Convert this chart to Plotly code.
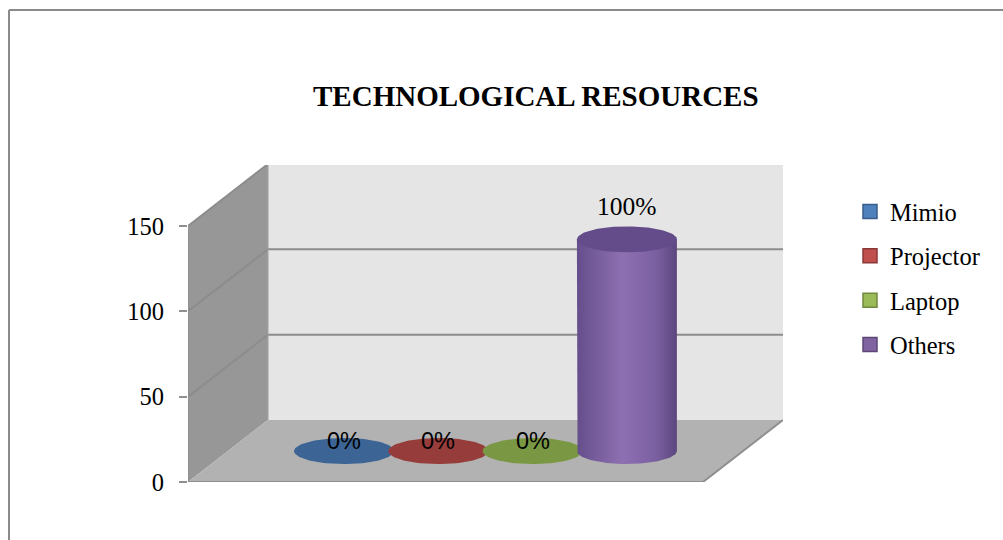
import numpy as np
import plotly.graph_objects as go

# ---- data ----
categories = ["Mimio", "Projector", "Laptop", "Others"]
counts = [0, 0, 0, 124]
y_ticks = [0, 50, 100, 150]
title_text = "TECHNOLOGICAL RESOURCES"

# ---- colours ----
face_colors = ["#3c6596", "#963c3a", "#7a9844", "#7a5fa0"]
legend_colors = ["#4f81bd", "#c0504d", "#9bbb59", "#8064a2"]
legend_edges = ["#385d8a", "#8c3836", "#71893f", "#5c4776"]
body_gradient = [[0, "#654e8c"], [0.45, "#8d70b1"], [0.8, "#7a5fa0"], [1, "#5b467e"]]
top_color = "#634c89"

# ---- frame geometry (axis units) ----
W, H = 1003, 540
PX_LEFT, PX_RIGHT, PX_BOTTOM, PX_TOP = 188, 783, 482, 165
PX_PER_VAL = (482 - 226) / 150.0
PX_PER_CAT = 94.3
PX_CAT0 = 304
Y_MAX = (PX_BOTTOM - PX_TOP) / PX_PER_VAL
X_MIN = (PX_LEFT - PX_CAT0) / PX_PER_CAT
X_MAX = (PX_RIGHT - PX_CAT0) / PX_PER_CAT
DX = 80 / PX_PER_CAT          # depth offset, horizontal
DY = 62 / PX_PER_VAL          # depth offset, vertical
X0, X1 = X_MIN, (703 - PX_CAT0) / PX_PER_CAT   # front edge of floor
RX = 50 / PX_PER_CAT
RY = 13 / PX_PER_VAL

fig = go.Figure()


def poly(xs, ys, fill, line_color=None, width=0, **kw):
    fig.add_trace(go.Scatter(
        x=list(xs), y=list(ys), mode="lines", fill="toself", fillcolor=fill,
        line=dict(color=line_color or fill, width=width),
        hoverinfo="skip", showlegend=False, **kw))


def seg(xs, ys, color, width):
    fig.add_trace(go.Scatter(x=xs, y=ys, mode="lines",
                             line=dict(color=color, width=width),
                             hoverinfo="skip", showlegend=False))


# walls and floor
poly([X0 + DX, X1 + DX, X1 + DX, X0 + DX], [DY, DY, 150 + DY, 150 + DY], "#e5e5e5")
poly([X0, X0, X0 + DX, X0 + DX], [0, 150, 150 + DY, DY], "#979797")
poly([X0, X1, X1 + DX, X0 + DX], [0, 0, DY, DY], "#b2b2b2")

# gridlines across left wall and back wall
for v in y_ticks[1:]:
    seg([X0, X0 + DX, X1 + DX], [v, v + DY, v + DY], "#8c8c8c", 2)
seg([X0 + DX, X0 + DX], [DY, 150 + DY], "#a0a0a0", 1)
seg([X0, X1, X1 + DX], [0, 0, DY], "#8f8f8f", 2)
seg([X0, X0], [0, 150], "#8f8f8f", 1.5)

# cylinders
t = np.linspace(0, 2 * np.pi, 121)
half = np.linspace(np.pi, 2 * np.pi, 61)
total = sum(counts)
for i, (name, v) in enumerate(zip(categories, counts)):
    cx = i + DX / 2
    yb = DY / 2
    yt = yb + v
    if v > 0:
        bx = np.concatenate([[cx - RX], cx + RX * np.cos(half), [cx + RX]])
        by = np.concatenate([[yt], yb + RY * np.sin(half), [yt]])
        fig.add_trace(go.Scatter(
            x=bx, y=by, mode="lines", fill="toself",
            fillgradient=dict(type="horizontal", colorscale=body_gradient),
            line=dict(width=0), hoverinfo="skip", showlegend=False))
        poly(cx + RX * np.cos(t), yt + RY * np.sin(t), top_color)
    else:
        poly(cx + RX * np.cos(t), yb + RY * np.sin(t), face_colors[i])

# value labels
for i, v in enumerate(counts):
    cx = i + DX / 2
    yt = DY / 2 + v
    pct = f"{round(100 * v / total)}%"
    if v > 0:
        fig.add_annotation(x=cx, y=yt, text=pct, showarrow=False, yanchor="bottom",
                           yshift=16, font=dict(family="Liberation Serif", size=25.5, color="black"))
    else:
        fig.add_annotation(x=cx, y=yt, text=pct, showarrow=False, yanchor="bottom",
                           yshift=-5, font=dict(family="Liberation Sans", size=23.5, color="black"))

# legend entries
for name, c, e in zip(categories, legend_colors, legend_edges):
    fig.add_trace(go.Scatter(
        x=[None], y=[None], mode="markers", name=name, legendgroup=name,
        marker=dict(symbol="square", size=14, color=c, line=dict(color=e, width=1.5))))

fig.add_annotation(x=536 / W, y=1 - 96 / H, xref="paper", yref="paper", text=f"<b>{title_text}</b>",
                   xanchor="center", yanchor="middle", showarrow=False,
                   font=dict(family="Liberation Serif", size=29, color="black"))

# outer chart border
fig.add_shape(type="line", xref="paper", yref="paper", x0=9 / W, x1=1.01, y0=1 - 10 / H, y1=1 - 10 / H,
              line=dict(color="#8a8a8a", width=2))
fig.add_shape(type="line", xref="paper", yref="paper", x0=9 / W, x1=9 / W, y0=1 - 10 / H, y1=-0.01,
              line=dict(color="#8a8a8a", width=2))

fig.update_layout(
    width=W, height=H,
    margin=dict(l=0, r=0, t=0, b=0, autoexpand=False),
    paper_bgcolor="white", plot_bgcolor="rgba(0,0,0,0)",
    xaxis=dict(domain=[PX_LEFT / W, PX_RIGHT / W], range=[X_MIN, X_MAX], visible=False, fixedrange=True),
    yaxis=dict(domain=[1 - PX_BOTTOM / H, 1 - PX_TOP / H], range=[0, Y_MAX],
               tickvals=y_ticks, ticks="outside", ticklen=8, tickwidth=2, tickcolor="#8f8f8f",
               ticklabelstandoff=10, automargin=False,
               showgrid=False, zeroline=False, showline=False,
               tickfont=dict(family="Liberation Serif", size=24.5, color="black"), fixedrange=True),
    legend=dict(x=850 / W, y=1 - 189 / H, xanchor="left", yanchor="top",
                font=dict(family="Liberation Serif", size=24.5, color="black"),
                tracegroupgap=9.5, bgcolor="rgba(0,0,0,0)", itemwidth=30),
    showlegend=True,
)

fig.write_html("out.html", config={"displayModeBar": False})
